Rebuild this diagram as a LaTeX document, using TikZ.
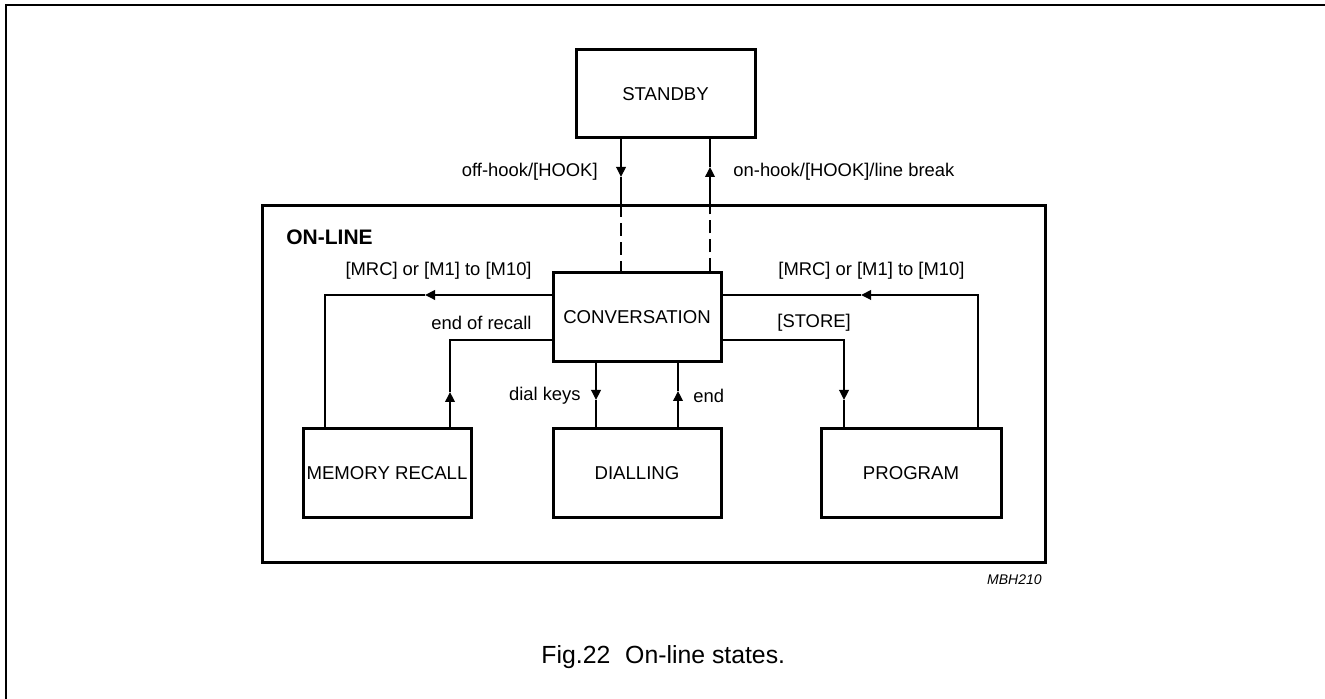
\documentclass[tikz,border=0pt]{standalone}
\usepackage{fontspec}
\setmainfont{Liberation Sans}
\usetikzlibrary{arrows.meta}

\begin{document}
\begin{tikzpicture}[x = 0.5pt, y = 0.5pt]
\tikzstyle{StateStyle}=[shape = rectangle,
                        draw,
                        line width = 1.5pt,
                        minimum width = 84pt,
                        minimum height = 44.5pt,
                        inner sep = 0pt,
                        font = \fontsize{9.3}{11}\selectfont]
\tikzstyle{LinkStyle}=[line width = 0.8pt]
\tikzstyle{TipStyle}=[LinkStyle, -{Triangle[width = 4.8pt, length = 5pt]}]
\tikzstyle{CondStyle}=[inner sep = 0pt, font = \fontsize{9.2}{11}\selectfont]
\useasboundingbox (0,0) rectangle (1325,699);
\draw[line width = 1pt] (5.5,0) -- (5.5,693.5) -- (1325,693.5);
% on-line frame
\node[draw, line width = 1.5pt, minimum width = 391.5pt, minimum height = 178.5pt, inner sep = 0pt] (online) at (653.5,314.5) {};
\node[anchor = west, inner sep = 0pt, font = \bfseries\fontsize{10.5}{12}\selectfont] (onlinelabel) at (286,462) {ON-LINE};
% states
\node[StateStyle, minimum width = 89.5pt, minimum height = 44pt] (standby) at (665.5,605) {STANDBY};
\node[StateStyle] (conv) at (637,381.5) {CONVERSATION};
\node[StateStyle] (recall) at (387,225.5) {MEMORY RECALL};
\node[StateStyle] (dial) at (637,225.5) {DIALLING};
\node[StateStyle, minimum width = 90pt] (prog) at (911,225.5) {PROGRAM};
% arrow points and bends
\coordinate (offhook) at (621,522);
\coordinate (onhook) at (710,532);
\coordinate (mrcl) at (425,404);
\coordinate (mrclbend) at (325,404);
\coordinate (recallup) at (450,307);
\coordinate (recallbend) at (450,359);
\coordinate (dialdown) at (596,299);
\coordinate (endup) at (678,308);
\coordinate (storebend) at (844,359);
\coordinate (storedown) at (844,299);
\coordinate (mrcr) at (861,404);
\coordinate (mrcrbend) at (978,404);
% standby <-> conversation
\draw[TipStyle] (standby.south -| offhook) -- (offhook);
\draw[LinkStyle] (offhook) -- (online.north -| offhook);
\draw[LinkStyle, dash pattern = on 6.5pt off 3pt] (online.north -| offhook) -- (conv.north -| offhook);
\draw[LinkStyle, dash pattern = on 6.5pt off 3pt] (conv.north -| onhook) -- (online.north -| onhook);
\draw[TipStyle] (online.north -| onhook) -- (onhook);
\draw[LinkStyle] (onhook) -- (standby.south -| onhook);
% memory recall
\draw[TipStyle] (conv.west |- mrcl) -- (mrcl);
\draw[LinkStyle] (mrcl) -- (mrclbend) -- (recall.north -| mrclbend);
\draw[TipStyle] (recall.north -| recallup) -- (recallup);
\draw[LinkStyle] (recallup) -- (recallbend) -- (conv.west |- recallbend);
% dialling
\draw[TipStyle] (conv.south -| dialdown) -- (dialdown);
\draw[LinkStyle] (dialdown) -- (dial.north -| dialdown);
\draw[TipStyle] (dial.north -| endup) -- (endup);
\draw[LinkStyle] (endup) -- (conv.south -| endup);
% program
\draw[TipStyle] (conv.east |- storebend) -- (storebend) -- (storedown);
\draw[LinkStyle] (storedown) -- (prog.north -| storedown);
\draw[TipStyle] (prog.north -| mrcrbend) -- (mrcrbend) -- (mrcr);
\draw[LinkStyle] (mrcr) -- (conv.east |- mrcr);
% conditions
\node[CondStyle, anchor = east] (offhooklabel) at (598,527) {off-hook/[HOOK]};
\node[CondStyle, anchor = west] (onhooklabel) at (733,527) {on-hook/[HOOK]/line break};
\node[CondStyle, anchor = east] (mrcllabel) at (532,428) {[MRC] or [M1] to [M10]};
\node[CondStyle, anchor = west] (mrcrlabel) at (778,428) {[MRC] or [M1] to [M10]};
\node[CondStyle, anchor = east] (recalllabel) at (532,376) {end of recall};
\node[CondStyle, anchor = west] (storelabel) at (777,376) {[STORE]};
\node[CondStyle, anchor = east] (diallabel) at (581,303) {dial keys};
\node[CondStyle, anchor = west] (endlabel) at (693,303) {end};
\node[anchor = east, inner sep = 0pt, font = \itshape\fontsize{7}{8}\selectfont] (code) at (1042,119) {MBH210};
\node[anchor = base west, inner sep = 0pt, font = \fontsize{12.4}{14}\selectfont] (caption) at (541,35.7) {Fig.22\hspace{0.6em}On-line states.};
\end{tikzpicture}
\end{document}
